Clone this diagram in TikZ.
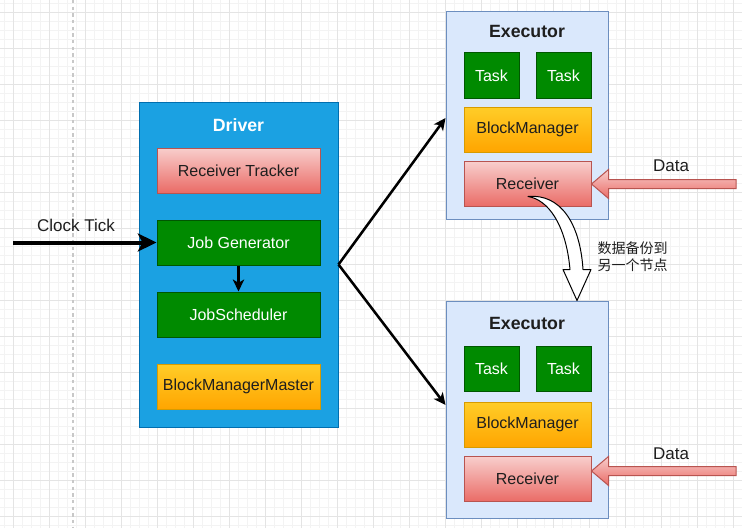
\documentclass[tikz,border=0pt]{standalone}
\usepackage{fontspec}
\setmainfont{Liberation Sans}
\newfontfamily\cjkfont{Noto Sans CJK SC}
\usetikzlibrary{arrows.meta,calc}

\definecolor{gridminor}{HTML}{F3F3F3}
\definecolor{gridmajor}{HTML}{E4E4E4}
\definecolor{pagebreak}{HTML}{C8C8C8}
\definecolor{drvfill}{HTML}{1BA1E2}
\definecolor{drvline}{HTML}{006EAF}
\definecolor{exefill}{HTML}{DAE8FC}
\definecolor{exeline}{HTML}{6C8EBF}
\definecolor{grnfill}{HTML}{008A00}
\definecolor{grnline}{HTML}{005700}
\definecolor{redtop}{HTML}{F8CECC}
\definecolor{redbot}{HTML}{EA6B66}
\definecolor{redline}{HTML}{B85450}
\definecolor{orgtop}{HTML}{FFCD28}
\definecolor{orgbot}{HTML}{FFA500}
\definecolor{orgline}{HTML}{D79B00}
\definecolor{ink}{HTML}{1E1E1E}

\begin{document}
\begin{tikzpicture}[x=0.75pt,y=-0.75pt,
  box/.style 2 args={draw, line width=0.75pt, inner sep=0pt,
    minimum width=#1*0.75pt, minimum height=#2*0.75pt,
    font=\fontsize{12}{14}\selectfont},
  container/.style 2 args={box={#1}{#2}},
  drvbox/.style={fill=drvfill, draw=drvline},
  exebox/.style={fill=exefill, draw=exeline},
  grnbox/.style={fill=grnfill, draw=grnline, text=white},
  redbox/.style={top color=redtop, bottom color=redbot, draw=redline, text=ink},
  orgbox/.style={top color=orgtop, bottom color=orgbot, draw=orgline, text=ink},
  title/.style={font=\bfseries\fontsize{13.3}{15}\selectfont},
  lbl/.style={font=\fontsize{12.75}{15}\selectfont, text=ink},
  conn/.style={line width=1.9pt, -{Stealth[length=9pt,width=8.5pt,inset=2.5pt]}},
  fatarrow/.style={top color=redtop, bottom color=redbot, draw=redline, line width=0.75pt},
]
\useasboundingbox (0,0) rectangle (742,528);
\fill[white] (0,0) rectangle (742,528);

% background grid
\foreach \gx in {4.33,13.33,...,742} \draw[gridminor, line width=0.5pt] (\gx,0) -- (\gx,528);
\foreach \gy in {3.33,12.33,...,528} \draw[gridminor, line width=0.5pt] (0,\gy) -- (742,\gy);
\foreach \gx in {13.33,49.33,...,742} \draw[gridmajor, line width=0.6pt] (\gx,0) -- (\gx,528);
\foreach \gy in {12.33,48.33,...,528} \draw[gridmajor, line width=0.6pt] (0,\gy) -- (742,\gy);
\draw[pagebreak, line width=1pt, dash pattern=on 2.5pt off 2.5pt] (73,0) -- (73,528);

% driver
\node[container={199}{325}, drvbox] (driver) at (238.5,264.5) {};
\node[title, text=white] (drvtitle) at (238.5,125) {Driver};
\node[box={163}{45}, redbox] (tracker) at (238.5,170.5) {Receiver Tracker};
\node[box={163}{45}, grnbox] (jobgen) at (238.5,242.5) {Job Generator};
\node[box={163}{45}, grnbox] (jobsch) at (238.5,314.5) {JobScheduler};
\node[box={163}{45}, orgbox] (bmm) at (238.5,386.5) {BlockManagerMaster};

% executor 1
\node[container={162}{207}, exebox] (exec1) at (527,115.5) {};
\node[title, text=ink] (ex1title) at (527,31) {Executor};
\node[box={55}{45}, grnbox] (task1a) at (491.5,75.5) {Task};
\node[box={55}{45}, grnbox] (task1b) at (563.5,75.5) {Task};
\node[box={127}{45}, orgbox] (bm1) at (527.5,129.5) {BlockManager};
\node[box={127}{45}, redbox] (rcv1) at (527.5,184) {Receiver};

% executor 2
\node[container={162}{217}, exebox] (exec2) at (527,409.5) {};
\node[title, text=ink] (ex2title) at (527,323.5) {Executor};
\node[box={55}{45}, grnbox] (task2a) at (491.5,368.5) {Task};
\node[box={55}{45}, grnbox] (task2b) at (563.5,368.5) {Task};
\node[box={127}{45}, orgbox] (bm2) at (527.5,424.5) {BlockManager};
\node[box={127}{45}, redbox] (rcv2) at (527.5,479) {Receiver};

% clock tick input
\coordinate (clk) at (13,242.5);
\draw[line width=3pt, -{Stealth[length=14pt,width=13.5pt,inset=3.5pt]}] (clk) -- (jobgen.west);
\node[lbl] (clklbl) at (76,225) {Clock Tick};

% job generator to scheduler
\draw[conn] (jobgen.south) -- (jobsch.north);

% driver to executors
\draw[conn] (driver.east) -- ($(exec1.west)+(0,2.5)$);
\draw[conn] (driver.east) -- ($(exec2.west)+(0,-4.5)$);

% incoming data streams
\begin{scope}[shift={(rcv1.east)}]
  \path[fatarrow] (0,0) -- (17,-14.5) -- (17,-4.5) -- (144.5,-4.5) -- (144.5,4.5)
    -- (17,4.5) -- (17,14.5) -- cycle;
\end{scope}
\node[lbl] (data1) at (671,166) {Data};
\begin{scope}[shift={($(rcv2.east)+(0,-8)$)}]
  \path[fatarrow] (0,0) -- (17,-14.5) -- (17,-4.5) -- (144.5,-4.5) -- (144.5,4.5)
    -- (17,4.5) -- (17,14.5) -- cycle;
\end{scope}
\node[lbl] (data2) at (671,454) {Data};

% replication arrow between receivers
\coordinate (reptip) at ($(exec2.north)+(50,0)$);
\begin{scope}[shift={(reptip)}]
  \draw[fill=white, line width=0.75pt, line join=round]
    (-49,-104) .. controls (-29,-101) and (-11,-76) .. (-7,-31)
    -- (-14,-31) -- (0,0) -- (14,-31) -- (6,-31)
    .. controls (3,-78) and (-17,-107) .. cycle;
\end{scope}
\node[anchor=west, align=left, text=ink, font=\cjkfont\fontsize{10.5}{12.8}\selectfont]
  (replbl) at (593,256.5) {数据备份到\\另一个节点};

\end{tikzpicture}
\end{document}
